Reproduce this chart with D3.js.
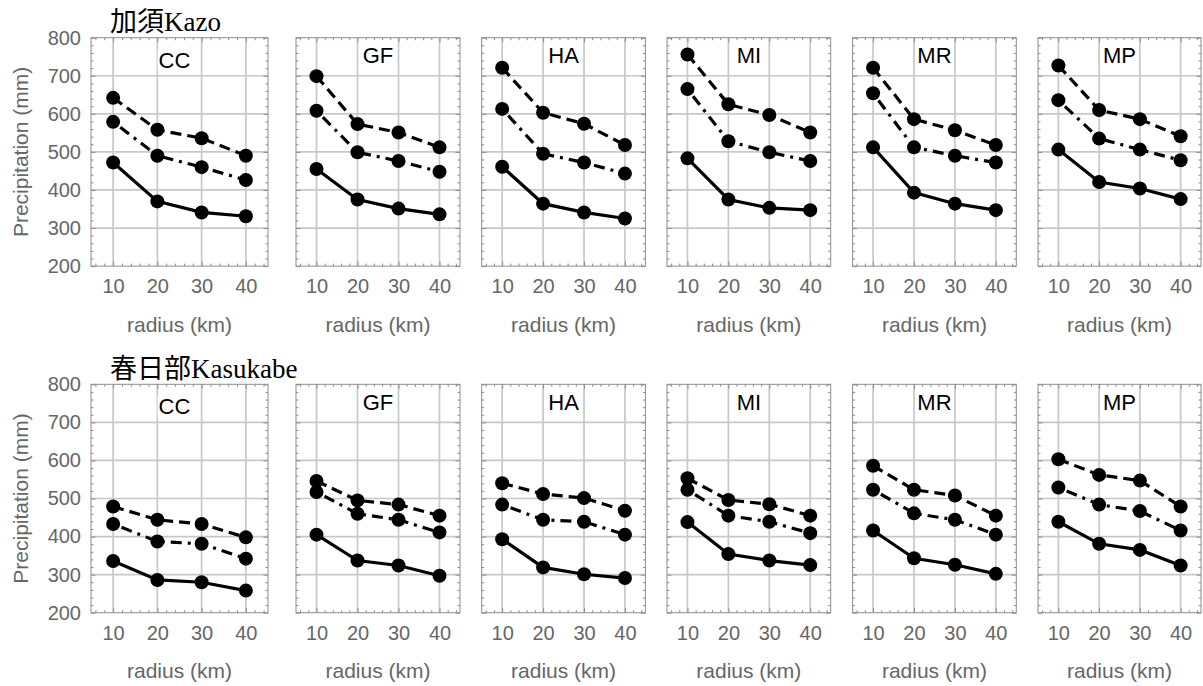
<!DOCTYPE html>
<html>
<head>
<meta charset="utf-8">
<script src="https://cdn.jsdelivr.net/npm/d3@7"></script>
<style>
  body { margin: 0; background: #fff; }
  svg { display: block; }
</style>
</head>
<body>
<svg id="chart" width="1203" height="686"></svg>
<script>
const radii = [10, 20, 30, 40];
const models = ['CC', 'GF', 'HA', 'MI', 'MR', 'MP'];
const stations = ['加須Kazo', '春日部Kasukabe'];
const yTicks = [200, 300, 400, 500, 600, 700, 800];

// per model, values at radii 10..40 km
const kazoUpper = [[642, 558, 536, 490], [699, 573, 551, 512], [721, 603, 574, 518], [756, 625, 597, 551], [721, 586, 557, 518], [727, 610, 586, 541]];
const kazoMiddle = [[579, 490, 460, 426], [608, 499, 476, 448], [613, 495, 472, 443], [665, 528, 499, 476], [654, 512, 490, 472], [636, 535, 506, 478]];
const kazoLower = [[472, 370, 341, 331], [455, 375, 351, 336], [461, 364, 341, 325], [483, 375, 353, 347], [512, 393, 364, 347], [506, 421, 404, 376]];

const kasukabeUpper = [[479, 444, 433, 398], [546, 495, 484, 455], [540, 512, 501, 468], [553, 496, 485, 455], [586, 523, 508, 455], [603, 562, 547, 479]];
const kasukabeMiddle = [[433, 387, 381, 342], [517, 460, 444, 411], [484, 444, 439, 405], [523, 455, 439, 409], [523, 461, 444, 405], [529, 484, 467, 416]];
const kasukabeLower = [[336, 286, 280, 258], [405, 337, 324, 297], [393, 319, 301, 291], [438, 354, 337, 325], [416, 343, 326, 302], [439, 381, 365, 324]];

const rows = [
    { title: stations[0], series: [kazoUpper, kazoMiddle, kazoLower] },
    { title: stations[1], series: [kasukabeUpper, kasukabeMiddle, kasukabeLower] },
];

// dashed, dot-dashed, solid
const dashes = ['11,6', '3,6,11,6', null];

const SANS = '"Liberation Sans", Arial, sans-serif';
const GRAY_TXT = '#666';
const FRAME = '#8c8c8c';
const GRID = '#c8c8c8';

const rowTop = [37.7, 384.3];
const plotH = 228.4;
// frame left edges and widths
const panelLeft = [91, 296, 481.7, 667, 852.6, 1038];
const panelW = [177, 164, 163.7, 163.7, 163.7, 163];

const svg = d3.select('#chart');

const y = d3.scaleLinear().domain([200, 800]).range([plotH, 0]);
const minorY = d3.range(200, 801, 20).filter(v => v % 100 !== 0);
const minorX = d3.range(6, 45, 2).filter(v => v % 10 !== 0);

rows.forEach((row, ri) => {
    const top = rowTop[ri];

    svg.append('text')
        .attr('x', 110).attr('y', top - 6.7)
        .attr('font-family', '"Liberation Serif", "Times New Roman", "Noto Sans CJK JP", serif')
        .attr('font-size', '27px')
        .attr('fill', '#000')
        .text(row.title);

    svg.append('text')
        .attr('transform', `translate(20,${top + plotH / 2}) rotate(-90)`)
        .attr('text-anchor', 'middle')
        .attr('dominant-baseline', 'central')
        .attr('font-family', SANS)
        .attr('font-size', '21px')
        .attr('fill', GRAY_TXT)
        .text('Precipitation (mm)');

    models.forEach((m, mi) => {
        const w = panelW[mi];
        const x = d3.scaleLinear().domain([5, 45]).range([0, w]);
        const g = svg.append('g').attr('transform', `translate(${panelLeft[mi]},${top})`);

        // grid
        g.append('g').selectAll('line').data(radii).enter().append('line')
            .attr('x1', d => x(d)).attr('x2', d => x(d))
            .attr('y1', 0).attr('y2', plotH)
            .attr('stroke', GRID).attr('stroke-width', 1.7);
        g.append('g').selectAll('line').data(yTicks.slice(1, -1)).enter().append('line')
            .attr('x1', 0).attr('x2', w)
            .attr('y1', d => y(d)).attr('y2', d => y(d))
            .attr('stroke', GRID).attr('stroke-width', 1.7);

        // ticks, inward on all four sides
        const axes = [
            [d3.axisBottom(x), `translate(0,${plotH})`, radii, minorX, 1, 13],
            [d3.axisTop(x), null, radii, minorX, 0, 10],
            [d3.axisLeft(y), null, yTicks, minorY, mi === 0 ? 1 : 0, 10],
            [d3.axisRight(y), `translate(${w},0)`, yTicks, minorY, 0, 10],
        ];
        axes.forEach(([ax, tr, major, minor, labels, pad]) => {
            const make = (vals, len, lab) => {
                const a = g.append('g')
                    .call(ax.tickValues(vals).tickSizeInner(-len).tickSizeOuter(0)
                        .tickPadding(pad)
                        .tickFormat(lab ? d3.format('d') : ''));
                if (tr) a.attr('transform', tr);
                a.select('.domain').remove();
                a.selectAll('line').attr('stroke', FRAME).attr('stroke-width', 1);
                a.selectAll('text')
                    .attr('font-family', SANS).attr('font-size', '20px').attr('fill', GRAY_TXT);
            };
            make(minor, 2.5, false);
            make(major, 4.5, labels);
        });

        g.append('rect')
            .attr('width', w).attr('height', plotH)
            .attr('fill', 'none').attr('stroke', FRAME).attr('stroke-width', 1);

        // series
        row.series.forEach((s, si) => {
            const pts = radii.map((r, k) => [r, s[mi][k]]);
            const line = d3.line().x(d => x(d[0])).y(d => y(d[1]));
            g.append('path')
                .attr('d', line(pts))
                .attr('fill', 'none')
                .attr('stroke', '#000')
                .attr('stroke-width', 3.2)
                .attr('stroke-dasharray', dashes[si]);
            g.append('g').selectAll('circle').data(pts).enter().append('circle')
                .attr('cx', d => x(d[0])).attr('cy', d => y(d[1]))
                .attr('r', 7)
                .attr('fill', '#000');
        });

        // panel label on white box
        const lab = g.append('g')
            .attr('transform', `translate(${mi === 0 ? x(25) - 5 : x(25)},${mi === 0 ? y(741) : y(752)})`);
        const t = lab.append('text')
            .attr('text-anchor', 'middle')
            .attr('dominant-baseline', 'central')
            .attr('font-family', SANS)
            .attr('font-size', '22px')
            .attr('fill', '#000')
            .text(m);
        const bb = t.node().getBBox();
        lab.insert('rect', 'text')
            .attr('x', bb.x - 1).attr('y', bb.y + 2)
            .attr('width', bb.width + 2).attr('height', bb.height - 4)
            .attr('fill', '#fff');

        g.append('text')
            .attr('x', w / 2).attr('y', plotH + 65.5)
            .attr('text-anchor', 'middle')
            .attr('font-family', SANS)
            .attr('font-size', '21px')
            .attr('fill', GRAY_TXT)
            .text('radius (km)');
    });
});
</script>
</body>
</html>
